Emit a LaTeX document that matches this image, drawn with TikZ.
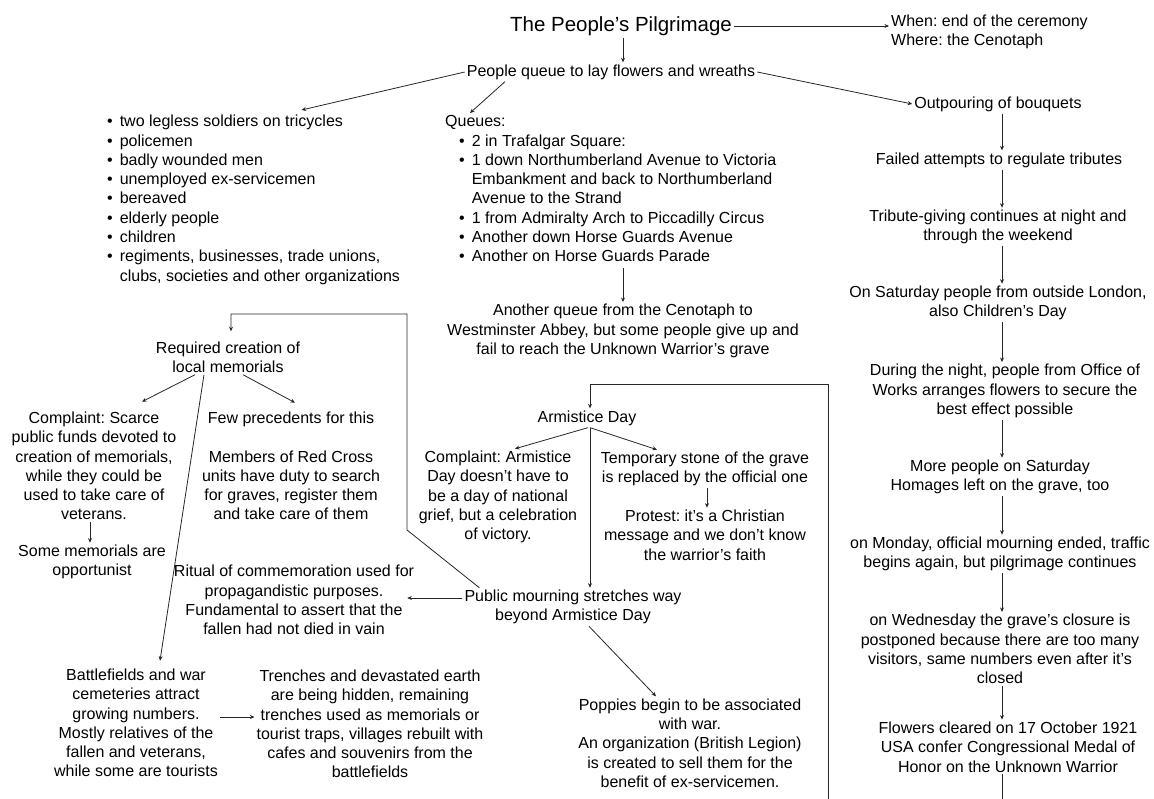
\documentclass[tikz,border=0pt]{standalone}
\usepackage{fontspec}
\setmainfont{Liberation Sans}
\usepackage{tikz}
\usetikzlibrary{arrows.meta}
\frenchspacing

\begin{document}
\begin{tikzpicture}[x=1pt, y=-1pt,
    main/.style = {align=center, inner sep=2pt, font=\fontsize{16}{19.3}\selectfont},
    list/.style = {anchor=north west, inner sep=0pt, font=\fontsize{16}{19.3}\selectfont},
    arr/.style = {draw=black!85, line width=0.8pt, -{Stealth[length=4.5pt,width=4pt]}},
    plain/.style = {draw=black!85, line width=0.8pt}]
    \useasboundingbox (0,0) rectangle (1154,799);

    % top
    \node[main, font=\fontsize{20.5}{24}\selectfont] (title) at (621,26) {The People's Pilgrimage};
    \node[main, align=left, anchor=west] (when) at (889,32) {When: end of the ceremony\\Where: the Cenotaph};
    \node[main] (queue) at (611,72) {People queue to lay flowers and wreaths};

    \node[list] (people) at (107,113) {\begin{tabular}[t]{@{}l@{\hspace{7pt}}l@{}}
        \textbullet & two legless soldiers on tricycles\\
        \textbullet & policemen\\
        \textbullet & badly wounded men\\
        \textbullet & unemployed ex-servicemen\\
        \textbullet & bereaved\\
        \textbullet & elderly people\\
        \textbullet & children\\
        \textbullet & regiments, businesses, trade unions,\\
                    & clubs, societies and other organizations
    \end{tabular}};

    \node[list] (queues) at (445,113) {\begin{tabular}[t]{@{\hspace{14pt}}l@{\hspace{7pt}}l@{}}
        \multicolumn{2}{@{}l@{}}{Queues:}\\
        \textbullet & 2 in Trafalgar Square:\\
        \textbullet & 1 down Northumberland Avenue to Victoria\\
                    & Embankment and back to Northumberland\\
                    & Avenue to the Strand\\
        \textbullet & 1 from Admiralty Arch to Piccadilly Circus\\
        \textbullet & Another down Horse Guards Avenue\\
        \textbullet & Another on Horse Guards Parade
    \end{tabular}};

    \node[main] (another) at (623,331) {Another queue from the Cenotaph to\\Westminster Abbey, but some people give up and\\fail to reach the Unknown Warrior's grave};

    % right column
    \node[main] (outpour) at (998,104) {Outpouring of bouquets};
    \node[main] (failed) at (999,160) {Failed attempts to regulate tributes};
    \node[main] (tribute) at (998,227) {Tribute-giving continues at night and\\through the weekend};
    \node[main] (saturday) at (998,303) {On Saturday people from outside London,\\also Children's Day};
    \node[main] (night) at (1005,391) {During the night, people from Office of\\Works arranges flowers to secure the\\best effect possible};
    \node[main] (more) at (1000,477) {More people on Saturday\\Homages left on the grave, too};
    \node[main] (monday) at (1000,554) {on Monday, official mourning ended, traffic\\begins again, but pilgrimage continues};
    \node[main] (wednesday) at (1000,649) {on Wednesday the grave's closure is\\postponed because there are too many\\visitors, same numbers even after it's\\closed};
    \node[main] (flowers) at (1008,747) {Flowers cleared on 17 October 1921\\USA confer Congressional Medal of\\Honor on the Unknown Warrior};
    \coordinate (axis) at (1002,0);
    \coordinate (tail) at (1002,799);

    % middle
    \node[main] (armistice) at (587,418) {Armistice Day};
    \node[main] (complaintB) at (498,497) {Complaint: Armistice\\Day doesn't have to\\be a day of national\\grief, but a celebration\\of victory.};
    \node[main] (stone) at (705,469) {Temporary stone of the grave\\is replaced by the official one};
    \node[main] (protest) at (705,535) {Protest: it's a Christian\\message and we don't know\\the warrior's faith};
    \node[main] (public) at (573,607) {Public mourning stretches way\\beyond Armistice Day};
    \node[main] (ritual) at (294,600) {Ritual of commemoration used for\\propagandistic purposes.\\Fundamental to assert that the\\fallen had not died in vain};
    \node[main] (poppies) at (690,743) {Poppies begin to be associated\\with war.\\An organization (British Legion)\\is created to sell them for the\\benefit of ex-servicemen.};
    \coordinate (loopend) at (828,799);

    % left
    \node[main] (required) at (228,357) {Required creation of\\local memorials};
    \node[main] (complaintA) at (94,466) {Complaint: Scarce\\public funds devoted to\\creation of memorials,\\while they could be\\used to take care of\\veterans.};
    \node[main] (some) at (92,562) {Some memorials are\\opportunist};
    \node[main] (few) at (291,466) {Few precedents for this\\[\baselineskip]Members of Red Cross\\units have duty to search\\for graves, register them\\and take care of them};
    \node[main] (battle) at (136,723) {Battlefields and war\\cemeteries attract\\growing numbers.\\Mostly relatives of the\\fallen and veterans,\\while some are tourists};
    \node[main] (trenches) at (370,724) {Trenches and devastated earth\\are being hidden, remaining\\trenches used as memorials or\\tourist traps, villages rebuilt with\\cafes and souvenirs from the\\battlefields};

    % connectors
    \draw[arr] (title.east) -- (title.east -| when.west);
    \draw[arr] ([xshift=2pt]title.south) -- ([xshift=2pt]title.south |- queue.north);
    \draw[arr] (queue.west) -- ([shift={(48pt,3pt)}]people.north);
    \draw[arr] ([xshift=-106pt]queue.south) -- ([xshift=25pt]queues.north west);
    \draw[arr] (another.north |- queues.south) -- (another.north);
    \draw[arr] (queue.east) -- (outpour.west);

    \foreach \a/\b in {outpour/failed, failed/tribute, tribute/saturday, saturday/night,
        night/more, more/monday, monday/wednesday, wednesday/flowers}
        \draw[arr] (\a.south -| axis) -- (\b.north -| axis);
    \draw[plain] (flowers.south -| tail) -- (tail);

    \draw[arr] (loopend) -- (loopend |- 0,384) -| ([xshift=3pt]armistice.north);
    \draw[arr] ([xshift=1pt]armistice.south) -- ([xshift=17pt]complaintB.north);
    \draw[arr] ([xshift=3pt]armistice.south) -- ([xshift=-48pt]stone.north);
    \draw[arr] ([xshift=3pt]armistice.south) -- ([xshift=3pt]armistice.south |- public.north);
    \draw[arr] ([xshift=2pt]stone.south) -- ([xshift=2pt]stone.south |- protest.north);
    \draw[arr] (public.west) ++(0,-9) -- ++(-55,0);
    \draw[arr] ([xshift=16pt]public.south) -- ([xshift=-34pt]poppies.north);
    \draw[arr] ([xshift=17pt]public.north west) -- (407,530) -- (407,314) -| ([shift={(3pt,8pt)}]required.north);

    \draw[arr] ([xshift=-33pt]required.south) -- ([shift={(48pt,8pt)}]complaintA.north);
    \draw[arr] ([xshift=15pt]required.south) -- ([shift={(4pt,7pt)}]few.north);
    \draw[arr] ([xshift=-24pt]required.south) -- ([shift={(24pt,6pt)}]battle.north);
    \draw[arr] ([xshift=-4pt]complaintA.south) -- ([xshift=-4pt]complaintA.south |- some.north);
    \draw[arr] ([yshift=6pt]battle.east) -- ([yshift=6pt]battle.east -| trenches.west);
\end{tikzpicture}
\end{document}
